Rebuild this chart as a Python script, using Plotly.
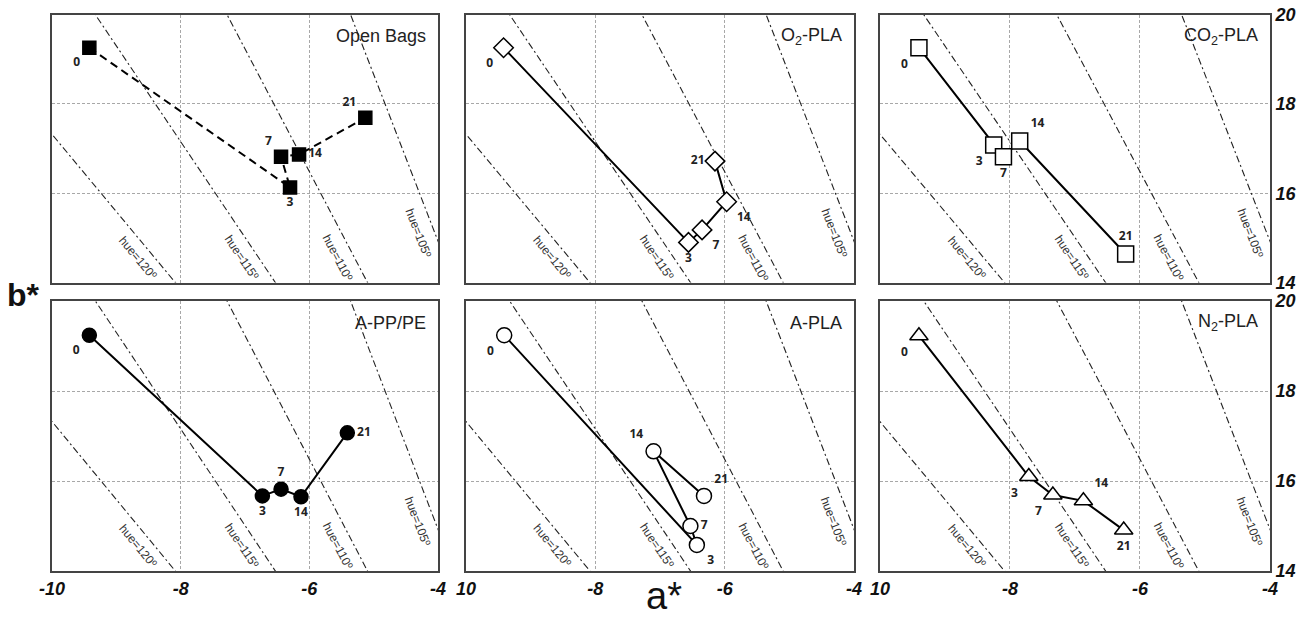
import numpy as np
import plotly.graph_objects as go

# ---------------- data ----------------
days = ["0", "3", "7", "14", "21"]
panel_names = ["Open Bags", "O<sub>2</sub>-PLA", "CO<sub>2</sub>-PLA",
               "A-PP/PE", "A-PLA", "N<sub>2</sub>-PLA"]

open_bags_a = [-9.42, -6.30, -6.44, -6.16, -5.13]
open_bags_b = [19.26, 16.13, 16.82, 16.87, 17.69]
o2_pla_a = [-9.42, -6.56, -6.35, -5.97, -6.15]
o2_pla_b = [19.26, 14.90, 15.18, 15.81, 16.72]
co2_pla_a = [-9.40, -8.25, -8.10, -7.85, -6.22]
co2_pla_b = [19.26, 17.08, 16.82, 17.17, 14.64]
a_pppe_a = [-9.42, -6.73, -6.44, -6.13, -5.41]
a_pppe_b = [19.24, 15.67, 15.82, 15.65, 17.07]
a_pla_a = [-9.41, -6.43, -6.53, -7.10, -6.32]
a_pla_b = [19.24, 14.58, 15.00, 16.66, 15.67]
n2_pla_a = [-9.40, -7.71, -7.34, -6.87, -6.25]
n2_pla_b = [19.23, 16.10, 15.69, 15.56, 14.91]

hue_angles = [120, 115, 110, 105]
hue_label_b = [14.55, 14.55, 14.55, 15.1]

x_range = [-10, -4]
y_range = [14, 20]
x_tick_vals = [-10, -8, -6, -4]
x_tick_text_first = ["-10", "-8", "-6", "-4"]
x_tick_text_other = ["10", "-8", "-6", "-4"]
y_tick_vals = [14, 16, 18, 20]
y_tick_text = ["14", "16", "18", "20"]

# ---------------- styles ----------------
series = [
    (open_bags_a, open_bags_b, dict(symbol="square", size=13, color="black", line=dict(color="black", width=1.5)), "dash"),
    (o2_pla_a, o2_pla_b, dict(symbol="diamond", size=15, color="white", line=dict(color="black", width=1.5)), "solid"),
    (co2_pla_a, co2_pla_b, dict(symbol="square", size=16, color="white", line=dict(color="black", width=1.5)), "solid"),
    (a_pppe_a, a_pppe_b, dict(symbol="circle", size=14, color="black", line=dict(color="black", width=1.5)), "solid"),
    (a_pla_a, a_pla_b, dict(symbol="circle", size=15, color="white", line=dict(color="black", width=1.5)), "solid"),
    (n2_pla_a, n2_pla_b, dict(symbol="triangle-up", size=16, color="white", line=dict(color="black", width=1.5)), "solid"),
]
label_positions = [
    ["bottom left", "bottom center", "top left", "middle right", "top left"],
    ["bottom left", "bottom center", "bottom right", "bottom right", "middle left"],
    ["bottom left", "bottom left", "bottom center", "top right", "top center"],
    ["bottom left", "bottom center", "top center", "bottom center", "middle right"],
    ["bottom left", "bottom right", "middle right", "top left", "top right"],
    ["bottom left", "bottom left", "bottom left", "top right", "bottom center"],
]

col_dom = [(0.0399, 0.3359), (0.3574, 0.6549), (0.6748, 0.9739)]
row_dom = [(0.5435, 0.9763), (0.0775, 0.5137)]

fig = go.Figure()
layout = dict()
annotations = []

for i in range(6):
    r, c = divmod(i, 3)
    n = i + 1
    xa = "x" if n == 1 else f"x{n}"
    ya = "y" if n == 1 else f"y{n}"
    xkey = "xaxis" if n == 1 else f"xaxis{n}"
    ykey = "yaxis" if n == 1 else f"yaxis{n}"

    # hue iso-lines
    for h in hue_angles:
        t = np.tan(np.radians(h))
        bb = np.array([12.0, 22.0])
        fig.add_trace(go.Scatter(x=bb / t, y=bb, mode="lines", xaxis=xa, yaxis=ya,
                                 line=dict(color="#222222", width=1.1, dash="7px,3px,2px,3px"),
                                 showlegend=False, hoverinfo="skip"))
    # hue labels
    for h, bl in zip(hue_angles, hue_label_b):
        t = np.tan(np.radians(h))
        ang = np.degrees(np.arctan(abs(t) * 44.8 / 64.6))
        annotations.append(dict(x=bl / t, y=bl, xref=xa, yref=ya, text=f"hue={h}º",
                                showarrow=False, textangle=ang, xshift=-17,
                                font=dict(family="Liberation Sans Narrow, Liberation Sans, Arial", size=12, color="#333333")))

    a_vals, b_vals, mk, dash = series[i]
    fig.add_trace(go.Scatter(x=a_vals, y=b_vals, mode="lines+markers+text", xaxis=xa, yaxis=ya,
                             line=dict(color="black", width=2, dash="8px,5px" if dash == "dash" else "solid"),
                             marker=mk, text=days, textposition=label_positions[i],
                             textfont=dict(family="Open Sans, Liberation Sans", size=12, color="#222222", weight="bold"),
                             showlegend=False, cliponaxis=False))

    annotations.append(dict(x=0.975, y=0.92, xref=f"{xa} domain", yref=f"{ya} domain",
                            text=panel_names[i], showarrow=False, xanchor="right", yanchor="middle",
                            font=dict(family="Liberation Sans, Arial", size=18, color="#222222")))

    layout[xkey] = dict(domain=list(col_dom[c]), range=x_range, anchor=ya, automargin=False,
                        showgrid=True, gridcolor="#a8a8a8", griddash="3px,2px", gridwidth=1,
                        tickvals=x_tick_vals,
                        ticktext=x_tick_text_first if c == 0 else x_tick_text_other,
                        showticklabels=(r == 1), ticks="",
                        tickfont=dict(family="Liberation Sans, Arial", size=18, color="#111111",
                                      weight="bold", style="italic"),
                        showline=True, mirror=True, linecolor="#444444", linewidth=2,
                        zeroline=False, fixedrange=True)
    layout[ykey] = dict(domain=list(row_dom[r]), range=y_range, anchor=xa, automargin=False,
                        showgrid=True, gridcolor="#a8a8a8", griddash="3px,2px", gridwidth=1,
                        tickvals=y_tick_vals, ticktext=y_tick_text,
                        showticklabels=(c == 2), side="right", ticks="",
                        tickfont=dict(family="Liberation Sans, Arial", size=18, color="#111111",
                                      weight="bold", style="italic"),
                        showline=True, mirror=True, linecolor="#444444", linewidth=2,
                        zeroline=False, fixedrange=True)

annotations.append(dict(x=23 / 1304, y=1 - 295 / 619, xref="paper", yref="paper", text="b*",
                        showarrow=False, xanchor="center", yanchor="middle",
                        font=dict(family="Liberation Sans, Arial", size=32, color="#111111", weight="bold")))
annotations.append(dict(x=664 / 1304, y=0, xref="paper", yref="paper", text="a*",
                        showarrow=False, xanchor="center", yanchor="bottom",
                        font=dict(family="Liberation Sans, Arial", size=38, color="#111111")))

fig.update_layout(**layout)
fig.update_layout(width=1304, height=619, margin=dict(l=0, r=0, t=0, b=0, autoexpand=False),
                  plot_bgcolor="white", paper_bgcolor="white",
                  annotations=annotations, showlegend=False)

fig.write_html("out.html")
